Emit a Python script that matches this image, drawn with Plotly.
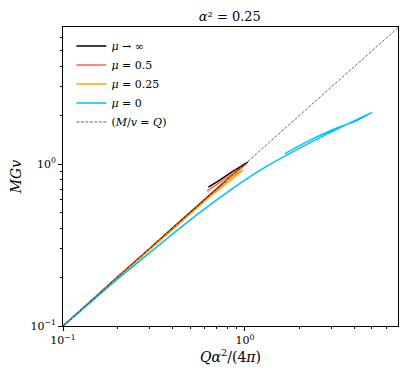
import plotly.graph_objects as go

# curves (Q alpha^2/(4 pi), M G v)
q_inf = [0.1, 0.2, 0.4, 0.7, 0.9, 1.04, 0.85, 0.72, 0.63]
m_inf = [0.1, 0.201, 0.402, 0.703, 0.9, 1.03, 0.893, 0.79, 0.72]

q_05 = [0.1, 0.2, 0.4, 0.7, 0.9, 1.02, 0.8, 0.62]
m_05 = [0.1, 0.2, 0.399, 0.695, 0.895, 1.0, 0.828, 0.68]

q_025 = [0.1, 0.2, 0.4, 0.67, 0.85, 0.975, 0.88, 0.78]
m_025 = [0.1, 0.199, 0.395, 0.655, 0.81, 0.918, 0.86, 0.78]

q_0 = [0.1, 0.15, 0.2, 0.28, 0.387, 0.55, 0.729, 0.94, 1.3, 1.66, 2.3, 3.2, 4.2, 5.0, 4.0, 3.2, 2.3, 1.66]
m_0 = [0.1, 0.148, 0.195, 0.266, 0.358, 0.49, 0.62, 0.76, 0.96, 1.12, 1.36, 1.64, 1.9, 2.08, 1.83, 1.67, 1.41, 1.16]

q_ref = [0.1, 7.0]
m_ref = [0.1, 7.0]

major_vals = [0.1, 1.0]
major_text = ["10<sup>−1</sup>", "10<sup>0</sup>"]
minor_vals = [0.2, 0.3, 0.4, 0.5, 0.6, 0.7, 0.8, 0.9, 2, 3, 4, 5, 6]

FONT = "DejaVu Serif, Liberation Serif, serif"

fig = go.Figure()
fig.add_trace(go.Scatter(x=q_inf, y=m_inf, mode="lines", name="<i>μ</i> → ∞",
                         line=dict(color="black", width=1.5, shape="spline", smoothing=0.6)))
fig.add_trace(go.Scatter(x=q_05, y=m_05, mode="lines", name="<i>μ</i> = 0.5",
                         line=dict(color="#ff6347", width=1.5)))
fig.add_trace(go.Scatter(x=q_025, y=m_025, mode="lines", name="<i>μ</i> = 0.25",
                         line=dict(color="#ffa500", width=1.5)))
fig.add_trace(go.Scatter(x=q_0, y=m_0, mode="lines", name="<i>μ</i> = 0",
                         line=dict(color="#00bfff", width=1.5, shape="spline", smoothing=0.8)))
fig.add_trace(go.Scatter(x=q_ref, y=m_ref, mode="lines", name="(<i>M</i>/<i>v</i> = <i>Q</i>)",
                         line=dict(color="black", width=0.6, dash="3px,1.5px")))

axis_common = dict(
    type="log",
    automargin=False,
    showgrid=False,
    zeroline=False,
    showline=True,
    linecolor="black",
    linewidth=1,
    mirror=True,
    ticks="outside",
    ticklen=4,
    tickwidth=1,
    tickcolor="black",
    tickvals=major_vals,
    ticktext=major_text,
    tickfont=dict(family=FONT, size=11, color="black"),
    minor=dict(ticks="outside", ticklen=2, tickwidth=0.8, tickcolor="black",
               tickvals=minor_vals, showgrid=False),
)

fig.update_xaxes(**axis_common, range=[-1, 0.842],
                 title=dict(text="<i>Qα</i><sup>2</sup>/(4<i>π</i>)",
                            font=dict(family=FONT, size=14, color="black"), standoff=2))
fig.update_yaxes(**axis_common, range=[-1, 0.846],
                 title=dict(text="<i>MGv</i>",
                            font=dict(family=FONT, size=14, color="black"), standoff=8))

# page body adds an 8px offset, so the figure is slightly smaller than the window
fig.update_layout(
    width=399,
    height=370,
    margin=dict(l=55, r=9, t=19, b=52, autoexpand=False),
    paper_bgcolor="white",
    plot_bgcolor="white",
    title=dict(text="<i>α</i>² = 0.25", x=0.556, xanchor="center",
               y=0.978, yanchor="middle",
               font=dict(family=FONT, size=13, color="black")),
    legend=dict(x=0.025, y=0.985, xanchor="left", yanchor="top",
                bgcolor="rgba(255,255,255,0)", borderwidth=0,
                font=dict(family=FONT, size=11, color="black"),
                tracegroupgap=0, itemwidth=30),
    showlegend=True,
)

fig.write_html("out.html")
